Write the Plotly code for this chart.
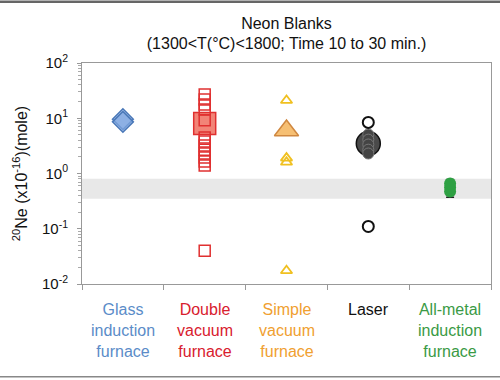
import plotly.graph_objects as go

categories = ["Glass induction furnace", "Double vacuum furnace", "Simple vacuum furnace",
              "Laser", "All-metal induction furnace"]
cat_labels = ["Glass<br>induction<br>furnace", "Double<br>vacuum<br>furnace",
              "Simple<br>vacuum<br>furnace", "Laser", "All-metal<br>induction<br>furnace"]
cat_colors = ["#5b8cc8", "#d8202e", "#f0a030", "#111111", "#3a9a45"]

glass_vals = [9.6, 8.6]
double_small = [27, 21.8, 17.7, 14.4, 9.2, 4.5, 3.8, 3.2, 2.7, 2.3, 1.95, 1.65, 1.4, 0.04]
double_mean = [8.0]
simple_small = [21, 1.9, 1.6, 0.0174]
simple_mean = [6.0]
laser_open = [8.4, 0.11]
laser_mean = [3.5]
laser_small = [5.1, 4.1, 3.35, 2.7, 2.3]
metal_vals = [0.47, 0.56, 0.66]
metal_mean = [0.56]
metal_err_plus = [0.22]
metal_err_minus = [0.19]
band = [0.35, 0.8]
yticks = [0.01, 0.1, 1, 10, 100]
ytick_text = ["10<sup>-2</sup>", "10<sup>-1</sup>", "10<sup>0</sup>", "10<sup>1</sup>", "10<sup>2</sup>"]

FONT = "Arial, Liberation Sans, sans-serif"
fig = go.Figure()

def add(cat, vals, **kw):
    fig.add_trace(go.Scatter(x=[cat] * len(vals), y=vals, mode="markers",
                             showlegend=False, hoverinfo="y", **kw))

add(categories[0], glass_vals, marker=dict(symbol="diamond", size=16, color="rgba(130,168,225,0.7)",
                                           line=dict(color="#4a78b8", width=1.5)))
add(categories[1], double_mean, marker=dict(symbol="square", size=22, color="rgba(240,110,95,0.85)",
                                            line=dict(color="#e03030", width=1.5)))
add(categories[1], double_small, marker=dict(symbol="square", size=11, color="rgba(255,255,255,0)",
                                             line=dict(color="#e03030", width=1.5)))
add(categories[2], simple_mean, marker=dict(symbol="triangle-up", size=21, color="rgba(245,180,90,0.85)",
                                            line=dict(color="#d08840", width=1.5)))
add(categories[2], simple_small, marker=dict(symbol="triangle-up", size=10, color="rgba(255,255,255,0)",
                                             line=dict(color="#f0c020", width=1.8)))
add(categories[3], laser_mean, marker=dict(symbol="circle", size=24, color="#4a4a4a",
                                           line=dict(color="#111111", width=1.5)))
add(categories[3], laser_small, marker=dict(symbol="circle", size=11, color="#444444",
                                            line=dict(color="#777777", width=1)))
add(categories[3], laser_open, marker=dict(symbol="circle", size=11, color="rgba(255,255,255,0)",
                                           line=dict(color="#111111", width=2)))
fig.add_trace(go.Scatter(x=[categories[4]], y=metal_mean, mode="markers", showlegend=False,
                         marker=dict(size=1, color="#222222"),
                         error_y=dict(type="data", symmetric=False, array=metal_err_plus,
                                      arrayminus=metal_err_minus, color="#222222",
                                      thickness=1.5, width=4)))
add(categories[4], metal_vals, marker=dict(symbol="circle", size=12, color="#2ea043",
                                           line=dict(color="#2ea043", width=0)))

fig.add_shape(type="rect", xref="paper", x0=0, x1=1, yref="y", y0=band[0], y1=band[1],
              fillcolor="#e8e8e8", line=dict(width=0), layer="below")

for cat, lab, col in zip(categories, cat_labels, cat_colors):
    fig.add_annotation(x=cat, xref="x", y=-0.07, yref="paper", yanchor="top",
                       text=lab, showarrow=False, font=dict(family=FONT, size=16, color=col))

# thin image frame lines
fig.add_shape(type="line", xref="paper", yref="paper", x0=-0.25, x1=1.05, y0=1.277, y1=1.277,
              line=dict(color="#666666", width=2.5))
fig.add_shape(type="line", xref="paper", yref="paper", x0=-0.25, x1=1.05, y0=-0.42, y1=-0.42,
              line=dict(color="#888888", width=1.5))

fig.update_layout(
    width=500, height=380,
    margin=dict(l=82, r=9, t=63, b=96, autoexpand=False),
    paper_bgcolor="white", plot_bgcolor="white",
    font=dict(family=FONT, size=15, color="#111111"),
    title=dict(text="Neon Blanks<br>(1300&lt;T(°C)&lt;1800; Time 10 to 30 min.)",
               x=0.5, xref="paper", xanchor="center", y=0.925, yref="container", yanchor="top",
               font=dict(family=FONT, size=16, color="#111111")),
    xaxis=dict(type="category", categoryorder="array", categoryarray=categories,
               tickson="boundaries", ticks="outside", ticklen=5, tickcolor="#999999",
               showticklabels=False, showgrid=False, showline=True, linecolor="#999999",
               linewidth=1, mirror=True, zeroline=False, range=[-0.5, 4.5], automargin=False),
    yaxis=dict(type="log", range=[-2, 2], tickvals=yticks, ticktext=ytick_text,
               ticks="outside", ticklen=4, tickcolor="#999999", showgrid=False,
               showline=True, linecolor="#999999", linewidth=1, mirror=True, automargin=False,
               ticklabelstandoff=6,
               tickfont=dict(family=FONT, size=15, color="#111111"),
               minor=dict(ticks="outside", ticklen=3, tickcolor="#aaaaaa", dtick="D1", showgrid=False),
               title=dict(text="<sup>20</sup>Ne (x10<sup>-16</sup>)(mole)", standoff=10,
                          font=dict(family=FONT, size=16, color="#111111"))),
)

fig.write_html("out.html", config={"displayModeBar": False},
               post_script="document.body.style.margin='0';")
